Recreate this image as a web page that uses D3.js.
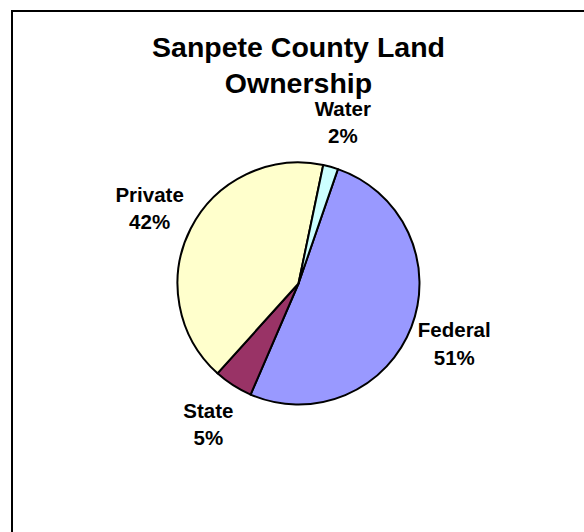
<!DOCTYPE html>
<html>
<head>
<meta charset="utf-8">
<script src="https://cdn.jsdelivr.net/npm/d3@7"></script>
<style>
  body { margin: 0; background: #fff; }
  svg { display: block; }
</style>
</head>
<body>
<svg class="chart"></svg>
<script>
// land ownership shares (clockwise from the Water/Federal edge)
var categories = ['Federal', 'State', 'Private', 'Water'];
var shares = [51.2, 5.2, 41.6, 2.0];
var colors = ['#9999FF', '#993366', '#FFFFCC', '#CCFFFF'];
var titleLines = ['Sanpete County Land', 'Ownership'];

var width = 584;
var height = 532;
var cx = 298.5, cy = 283.5;
var radius = 121;
var labelRadius = 167;

var svg = d3.select('.chart')
  .attr('width', width)
  .attr('height', height);

// chart frame, only top and left edges fall inside the window
svg.append('rect')
  .attr('x', 12)
  .attr('y', 11)
  .attr('width', 700)
  .attr('height', 700)
  .attr('fill', 'none')
  .attr('stroke', '#000')
  .attr('stroke-width', 2);

svg.append('text')
  .attr('x', cx)
  .attr('text-anchor', 'middle')
  .style('font-family', '"Liberation Sans", Arial, sans-serif')
  .style('font-weight', 'bold')
  .style('font-size', '28.5px')
  .selectAll('tspan')
  .data(titleLines)
  .enter().append('tspan')
  .attr('x', cx)
  .attr('y', (d, i) => 57 + i * 36)
  .text(d => d);

var startDeg = 19;
var pie = d3.pie()
  .sort(null)
  .startAngle(startDeg * Math.PI / 180)
  .endAngle((startDeg + 360) * Math.PI / 180);

var arcs = pie(shares);

var arc = d3.arc()
  .innerRadius(0)
  .outerRadius(radius);

var labelArc = d3.arc()
  .innerRadius(labelRadius)
  .outerRadius(labelRadius);

var g = svg.append('g')
  .attr('transform', 'translate(' + cx + ',' + cy + ')');

g.selectAll('path')
  .data(arcs)
  .enter().append('path')
  .attr('d', arc)
  .attr('fill', (d, i) => colors[i])
  .attr('stroke', '#000')
  .attr('stroke-width', 2)
  .attr('stroke-linejoin', 'round');

var labels = g.selectAll('text.lbl')
  .data(arcs)
  .enter().append('text')
  .attr('class', 'lbl')
  .attr('text-anchor', 'middle')
  .style('font-family', '"Liberation Sans", Arial, sans-serif')
  .style('font-weight', 'bold')
  .style('font-size', '20.5px')
  .attr('transform', d => {
    var c = labelArc.centroid(d);
    return 'translate(' + c[0] + ',' + c[1] + ')';
  });

labels.append('tspan')
  .attr('x', 0)
  .attr('y', -6.4)
  .text((d, i) => categories[i]);

labels.append('tspan')
  .attr('x', 0)
  .attr('y', 21)
  .text(d => Math.round(d.value) + '%');
</script>
</body>
</html>
